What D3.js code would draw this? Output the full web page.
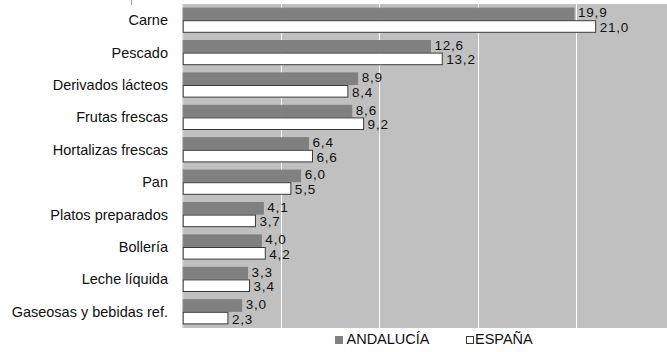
<!DOCTYPE html>
<html>
<head>
<meta charset="utf-8">
<script src="https://cdn.jsdelivr.net/npm/d3@7/dist/d3.min.js"></script>
<style>
  html, body { margin: 0; padding: 0; background: #fff; }
  svg { display: block; }
  text { font-family: "Liberation Sans", Arial, sans-serif; fill: #111; }
</style>
</head>
<body>
<svg id="chart" width="667" height="352"></svg>
<script>
const categories = ["Carne", "Pescado", "Derivados lácteos", "Frutas frescas", "Hortalizas frescas", "Pan", "Platos preparados", "Bollería", "Leche líquida", "Gaseosas y bebidas ref."];
const seriesNames = ["ANDALUCÍA", "ESPAÑA"];
const andalucia = [19.9, 12.6, 8.9, 8.6, 6.4, 6.0, 4.1, 4.0, 3.3, 3.0];
const espana = [21.0, 13.2, 8.4, 9.2, 6.6, 5.5, 3.7, 4.2, 3.4, 2.3];
const xTicks = [0, 5, 10, 15, 20, 25];

const seriesValues = [andalucia, espana];
const seriesFill = ["#808080", "#ffffff"];
const seriesStroke = ["#808080", "#3a3a3a"];

const W = 667, H = 352;
const plot = { left: 182.7, top: 4, right: 674.3, bottom: 328 };
const FS = 14.5;
const FS_LABEL = 13.5;

const svg = d3.select("#chart");

const x = d3.scaleLinear().domain([0, 25]).range([plot.left, plot.right]);
const y = d3.scaleBand().domain(categories).range([plot.top, plot.bottom]).paddingInner(0.222).paddingOuter(0.111);
const ySub = d3.scaleBand().domain(seriesNames).range([0, y.bandwidth()]);

const fmt = v => d3.format(".1f")(v).replace(".", ",");

function addText(g, tx, ty, str, anchor, size, spacing) {
  return g.append("text")
    .attr("x", tx).attr("y", ty)
    .attr("text-anchor", anchor || "start")
    .style("font-size", (size || FS) + "px")
    .style("letter-spacing", (spacing || 0) + "px")
    .text(str);
}

// small mark at top-left
svg.append("line").attr("x1", 131.5).attr("x2", 131.5).attr("y1", 0).attr("y2", 5)
  .attr("stroke", "#999").attr("stroke-width", 1);

// plot background
svg.append("rect")
  .attr("x", plot.left).attr("y", plot.top)
  .attr("width", plot.right - plot.left).attr("height", plot.bottom - plot.top)
  .attr("fill", "#c0c0c0");

// gridlines
svg.append("g").selectAll("line").data(xTicks.filter(t => t > 0 && t < 25)).join("line")
  .attr("x1", d => Math.round(x(d)) + 0.5).attr("x2", d => Math.round(x(d)) + 0.5)
  .attr("y1", plot.top).attr("y2", plot.bottom)
  .attr("stroke", "#ffffff").attr("stroke-width", 1);

// left axis line
svg.append("line")
  .attr("x1", x(0)).attr("x2", x(0)).attr("y1", plot.top).attr("y2", plot.bottom)
  .attr("stroke", "#dcdcdc").attr("stroke-width", 1);

// bars
const groups = svg.append("g").selectAll("g").data(categories).join("g")
  .attr("transform", d => `translate(0,${y(d)})`);

seriesNames.forEach((s, si) => {
  groups.append("rect")
    .attr("x", x(0) + 0.5)
    .attr("y", (d) => ySub(s) + 0.5)
    .attr("width", (d, i) => x(seriesValues[si][i]) - x(0) - 0.5)
    .attr("height", ySub.bandwidth() - 1)
    .attr("fill", seriesFill[si])
    .attr("stroke", seriesStroke[si])
    .attr("stroke-width", 1);
  groups.each(function (d, i) {
    const v = seriesValues[si][i];
    addText(d3.select(this), x(v) + 4, ySub(s) + ySub.bandwidth() / 2 + (si === 0 ? 3.5 : 5.5), fmt(v), "start", FS_LABEL, 0.8);
  });
});

// category labels
const labG = svg.append("g");
categories.forEach(c => {
  addText(labG, 168, y(c) + y.bandwidth() / 2 + 5, c, "end");
});

// legend
const legend = [
  { name: seriesNames[0], mx: 335, tx: 346.5 },
  { name: seriesNames[1], mx: 466, tx: 475 }
];
legend.forEach((l, i) => {
  svg.append("rect").attr("x", l.mx + 0.5).attr("y", 336.5).attr("width", 7).attr("height", 7)
    .attr("fill", seriesFill[i]).attr("stroke", seriesStroke[i]).attr("stroke-width", 1);
  addText(svg, l.tx, 343.5, l.name, "start");
});
</script>
</body>
</html>
